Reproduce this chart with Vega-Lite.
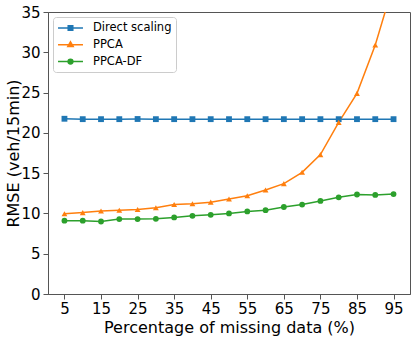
{
  "$schema": "https://vega.github.io/schema/vega-lite/v6.json",
  "width": 362,
  "height": 282,
  "autosize": {"type": "none"},
  "padding": {"left": 48, "top": 12, "right": 6, "bottom": 43},
  "background": "white",
  "config": {
    "font": "DejaVu Sans",
    "view": {"stroke": "#555", "strokeWidth": 1},
    "axis": {"grid": false, "domainColor": "#555", "tickColor": "#555", "labelColor": "black", "titleColor": "black", "labelFont": "DejaVu Sans", "titleFont": "DejaVu Sans", "titleFontWeight": "normal"}
  },
  "data": {
    "values": [
      {"x": 5, "series": "Direct scaling", "rmse": 21.75},
      {"x": 10, "series": "Direct scaling", "rmse": 21.7},
      {"x": 15, "series": "Direct scaling", "rmse": 21.7},
      {"x": 20, "series": "Direct scaling", "rmse": 21.7},
      {"x": 25, "series": "Direct scaling", "rmse": 21.72},
      {"x": 30, "series": "Direct scaling", "rmse": 21.7},
      {"x": 35, "series": "Direct scaling", "rmse": 21.7},
      {"x": 40, "series": "Direct scaling", "rmse": 21.7},
      {"x": 45, "series": "Direct scaling", "rmse": 21.7},
      {"x": 50, "series": "Direct scaling", "rmse": 21.7},
      {"x": 55, "series": "Direct scaling", "rmse": 21.7},
      {"x": 60, "series": "Direct scaling", "rmse": 21.7},
      {"x": 65, "series": "Direct scaling", "rmse": 21.7},
      {"x": 70, "series": "Direct scaling", "rmse": 21.7},
      {"x": 75, "series": "Direct scaling", "rmse": 21.7},
      {"x": 80, "series": "Direct scaling", "rmse": 21.7},
      {"x": 85, "series": "Direct scaling", "rmse": 21.7},
      {"x": 90, "series": "Direct scaling", "rmse": 21.7},
      {"x": 95, "series": "Direct scaling", "rmse": 21.7},
      {"x": 5, "series": "PPCA", "rmse": 9.95},
      {"x": 10, "series": "PPCA", "rmse": 10.1},
      {"x": 15, "series": "PPCA", "rmse": 10.3},
      {"x": 20, "series": "PPCA", "rmse": 10.4},
      {"x": 25, "series": "PPCA", "rmse": 10.5},
      {"x": 30, "series": "PPCA", "rmse": 10.7},
      {"x": 35, "series": "PPCA", "rmse": 11.1},
      {"x": 40, "series": "PPCA", "rmse": 11.2},
      {"x": 45, "series": "PPCA", "rmse": 11.4},
      {"x": 50, "series": "PPCA", "rmse": 11.8},
      {"x": 55, "series": "PPCA", "rmse": 12.2},
      {"x": 60, "series": "PPCA", "rmse": 12.9},
      {"x": 65, "series": "PPCA", "rmse": 13.7},
      {"x": 70, "series": "PPCA", "rmse": 15.1},
      {"x": 75, "series": "PPCA", "rmse": 17.3},
      {"x": 80, "series": "PPCA", "rmse": 21.3},
      {"x": 85, "series": "PPCA", "rmse": 24.9},
      {"x": 90, "series": "PPCA", "rmse": 30.9},
      {"x": 95, "series": "PPCA", "rmse": 38.5},
      {"x": 5, "series": "PPCA-DF", "rmse": 9.1},
      {"x": 10, "series": "PPCA-DF", "rmse": 9.1},
      {"x": 15, "series": "PPCA-DF", "rmse": 9.0},
      {"x": 20, "series": "PPCA-DF", "rmse": 9.3},
      {"x": 25, "series": "PPCA-DF", "rmse": 9.3},
      {"x": 30, "series": "PPCA-DF", "rmse": 9.33},
      {"x": 35, "series": "PPCA-DF", "rmse": 9.5},
      {"x": 40, "series": "PPCA-DF", "rmse": 9.7},
      {"x": 45, "series": "PPCA-DF", "rmse": 9.83},
      {"x": 50, "series": "PPCA-DF", "rmse": 10.0},
      {"x": 55, "series": "PPCA-DF", "rmse": 10.25},
      {"x": 60, "series": "PPCA-DF", "rmse": 10.4},
      {"x": 65, "series": "PPCA-DF", "rmse": 10.8},
      {"x": 70, "series": "PPCA-DF", "rmse": 11.1},
      {"x": 75, "series": "PPCA-DF", "rmse": 11.55},
      {"x": 80, "series": "PPCA-DF", "rmse": 12.0},
      {"x": 85, "series": "PPCA-DF", "rmse": 12.35},
      {"x": 90, "series": "PPCA-DF", "rmse": 12.3},
      {"x": 95, "series": "PPCA-DF", "rmse": 12.4}
    ]
  },
  "encoding": {
    "x": {
      "field": "x", "type": "quantitative",
      "scale": {"domain": [0.5, 99.5], "nice": false, "zero": false},
      "axis": {"values": [5, 15, 25, 35, 45, 55, 65, 75, 85, 95], "title": "Percentage of missing data (%)", "labelFontSize": 15, "titleFontSize": 16, "tickSize": 5, "labelPadding": 2, "titlePadding": 3, "labelFlush": false}
    },
    "y": {
      "field": "rmse", "type": "quantitative",
      "scale": {"domain": [0, 35], "nice": false},
      "axis": {"values": [0, 5, 10, 15, 20, 25, 30, 35], "title": "RMSE (veh/15min)", "labelFontSize": 15, "titleFontSize": 16, "tickSize": 5, "labelPadding": 3, "titleX": -30, "titleBaseline": "alphabetic", "labelFlush": false}
    },
    "color": {
      "field": "series", "type": "nominal",
      "scale": {"domain": ["Direct scaling", "PPCA", "PPCA-DF"], "range": ["#1f77b4", "#ff7f0e", "#2ca02c"]},
      "legend": {
        "title": null,
        "orient": "top-left",
        "offset": 5,
        "padding": 4,
        "strokeColor": "#cccccc",
        "fillColor": "rgba(255,255,255,0.8)",
        "cornerRadius": 3,
        "labelFontSize": 11.5,
        "labelFont": "DejaVu Sans",
        "labelColor": "black",
        "symbolSize": 144,
        "symbolOffset": 6.5,
        "labelOffset": 15.5,
        "rowPadding": 3.8,
        "symbolStrokeWidth": 1.5,
        "encode": {
          "symbols": {
            "update": {
              "shape": {"signal": "datum.value === 'PPCA' ? 'M-2.08,0H2.08M0,-0.5L0.45,0.3L-0.45,0.3Z' : datum.value === 'PPCA-DF' ? 'M-2.08,0H2.08M-0.4,0A0.4,0.4 0 1,0 0.4,0A0.4,0.4 0 1,0 -0.4,0Z' : 'M-2.08,0H2.08M-0.38,-0.38H0.38V0.38H-0.38Z'"},
              "fill": {"signal": "datum.value === 'PPCA' ? '#ff7f0e' : datum.value === 'PPCA-DF' ? '#2ca02c' : '#1f77b4'"},
              "stroke": {"signal": "datum.value === 'PPCA' ? '#ff7f0e' : datum.value === 'PPCA-DF' ? '#2ca02c' : '#1f77b4'"},
              "size": {"value": 144},
              "fillOpacity": {"value": 1},
              "strokeWidth": {"value": 1.5}
            }
          }
        }
      }
    }
  },
  "layer": [
    {
      "mark": {"type": "line", "strokeWidth": 1.5, "clip": true}
    },
    {
      "transform": [{"filter": "datum.series === 'Direct scaling'"}],
      "mark": {"type": "point", "shape": "square", "filled": true, "opacity": 1, "size": 34, "clip": true}
    },
    {
      "transform": [{"filter": "datum.series === 'PPCA'"}],
      "mark": {"type": "point", "shape": "triangle-up", "filled": true, "opacity": 1, "size": 34, "clip": true}
    },
    {
      "transform": [{"filter": "datum.series === 'PPCA-DF'"}],
      "mark": {"type": "point", "shape": "circle", "filled": true, "opacity": 1, "size": 34, "clip": true}
    }
  ]
}
